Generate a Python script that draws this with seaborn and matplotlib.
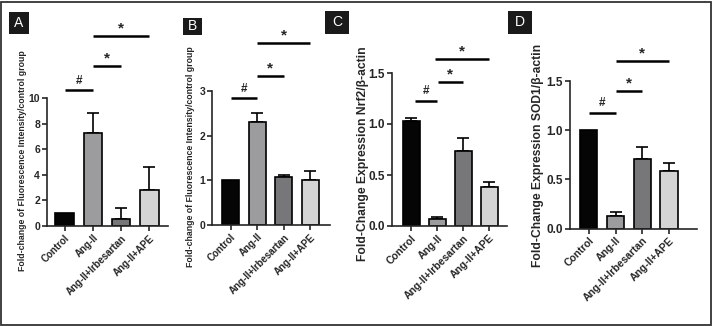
import matplotlib
matplotlib.use("Agg")
import matplotlib.pyplot as plt
from matplotlib.patches import Rectangle
import seaborn as sns
import pandas as pd

sns.set_style("ticks")
plt.rcParams['font.family'] = ['Liberation Sans', 'DejaVu Sans']

groups = ["Control", "Ang-II", "Ang-II+Irbesartan", "Ang-II+APE"]
colors = ["#050505", "#9b9ba0", "#76777a", "#d4d4d4"]

# panel values (mean, upper SEM)
a_mean = [1.0, 7.3, 0.57, 2.78]
a_err = [0.0, 1.55, 0.86, 1.84]
b_mean = [1.0, 2.31, 1.07, 1.01]
b_err = [0.0, 0.19, 0.05, 0.20]
c_mean = [1.03, 0.065, 0.735, 0.385]
c_err = [0.03, 0.02, 0.125, 0.05]
d_mean = [1.0, 0.13, 0.71, 0.59]
d_err = [0.0, 0.035, 0.115, 0.075]

a_ticks = [0, 2, 4, 6, 8, 10]
b_ticks = [0, 1, 2, 3]
c_ticks = [0.0, 0.5, 1.0, 1.5]
d_ticks = [0.0, 0.5, 1.0, 1.5]

W, H = 712, 326
fig = plt.figure(figsize=(W / 100, H / 100), dpi=100)


def px_axes(left, right, y0, ytop):
    return fig.add_axes([left / W, 1 - y0 / H, (right - left) / W, (y0 - ytop) / H])


panels = [
    dict(letter="A", mean=a_mean, err=a_err, ticks=a_ticks, ylim=10, box=(9, 12, 20, 22),
         ax=(47, 168, 226, 98), xlim=(-0.62, 3.66),
         ylabel="Fold-change of Fluorescence Intensity/control group", ylfs=6.3, ylx=27, yly=161,
         xfs=7.0, yfs=7.5, fmt="{:.0f}",
         sig=[(0, 1, 10.6, "#"), (1, 2, 12.5, "*"), (1, 3, 14.85, "*")]),
    dict(letter="B", mean=b_mean, err=b_err, ticks=b_ticks, ylim=3, box=(183, 18, 19, 17),
         ax=(212, 330, 225, 91), xlim=(-0.70, 3.74),
         ylabel="Fold-change of Fluorescence Intensity/control group", ylfs=6.3, ylx=195, yly=157,
         xfs=7.0, yfs=7.5, fmt="{:.0f}",
         sig=[(0, 1, 2.84, "#"), (1, 2, 3.33, "*"), (1, 3, 4.07, "*")]),
    dict(letter="C", mean=c_mean, err=c_err, ticks=c_ticks, ylim=1.5, box=(325, 11, 24, 23),
         ax=(392, 507, 226, 73), xlim=(-0.73, 3.68),
         ylabel="Fold-Change Expression Nrf2/β-actin", ylfs=8.7, ylx=369, yly=154,
         xfs=7.5, yfs=8.5, fmt="{:.1f}",
         sig=[(0.15, 1, 1.23, "#"), (1.02, 2, 1.41, "*"), (0.92, 3, 1.64, "*")]),
    dict(letter="D", mean=d_mean, err=d_err, ticks=d_ticks, ylim=1.5, box=(508, 11, 24, 23),
         ax=(570, 697, 228.7, 81), xlim=(-0.70, 4.04),
         ylabel="Fold-Change Expression SOD1/β-actin", ylfs=8.7, ylx=544, yly=155,
         xfs=7.5, yfs=8.5, fmt="{:.1f}",
         sig=[(0, 1, 1.176, "#"), (1, 2, 1.40, "*"), (1, 3, 1.70, "*")]),
]

for p in panels:
    ax = px_axes(*p["ax"])
    df = pd.DataFrame({"group": groups, "value": p["mean"]})
    sns.barplot(data=df, x="group", y="value", hue="group", palette=colors,
                order=groups, hue_order=groups, legend=False, width=0.65,
                edgecolor="black", linewidth=1.2, errorbar=None, ax=ax)
    xs = list(range(len(groups)))
    for x, m, e in zip(xs, p["mean"], p["err"]):
        if e > 0:
            ax.errorbar([x], [m], yerr=[[0], [e]], fmt="none", ecolor="black",
                        elinewidth=1.2, capsize=4, capthick=1.2, zorder=1)
    for bar in ax.patches:
        bar.set_zorder(2)
    ax.set_xlim(*p["xlim"])
    ax.set_ylim(0, p["ylim"])
    ax.set_yticks(p["ticks"])
    ax.set_yticklabels([p["fmt"].format(t) for t in p["ticks"]], fontsize=p["yfs"], fontweight="bold")
    ax.set_xticks(xs)
    ax.set_xticklabels(groups, rotation=45, ha="right", rotation_mode="anchor",
                       fontsize=p["xfs"], fontweight="bold")
    ax.set_xlabel("")
    ax.set_ylabel(p["ylabel"], fontsize=p["ylfs"], fontweight="bold")
    ax.yaxis.set_label_coords(p["ylx"] / W, 1 - p["yly"] / H, transform=fig.transFigure)
    sns.despine(ax=ax)
    for s in ("left", "bottom"):
        ax.spines[s].set_linewidth(1.2)
    ax.tick_params(width=1.2, length=3.5, pad=1.5)
    for x1, x2, y, sym in p["sig"]:
        ax.plot([x1, x2], [y, y], color="black", lw=1.8, clip_on=False, solid_capstyle="butt")
        fs = 11 if sym == "*" else 8.5
        off = 0.5 if sym == "*" else 2.5
        ax.annotate(sym, xy=((x1 + x2) / 2, y), xytext=(0, off), textcoords="offset points",
                    ha="center", va="bottom", fontsize=fs, fontweight="bold",
                    annotation_clip=False)
    bx, by, bw, bh = p["box"]
    fig.patches.append(Rectangle((bx / W, 1 - (by + bh) / H), bw / W, bh / H,
                                 transform=fig.transFigure, facecolor="#1a1a1a",
                                 edgecolor="none"))
    fig.text((bx + bw / 2) / W, 1 - (by + bh / 2) / H, p["letter"], color="white",
             fontsize=10, ha="center", va="center")

fig.patches.append(Rectangle((1.0 / W, 1.0 / H), (W - 2.5) / W, (H - 2.5) / H,
                             transform=fig.transFigure, facecolor="none",
                             edgecolor="#333333", linewidth=1.3))

fig.savefig("out.png", dpi=100)
